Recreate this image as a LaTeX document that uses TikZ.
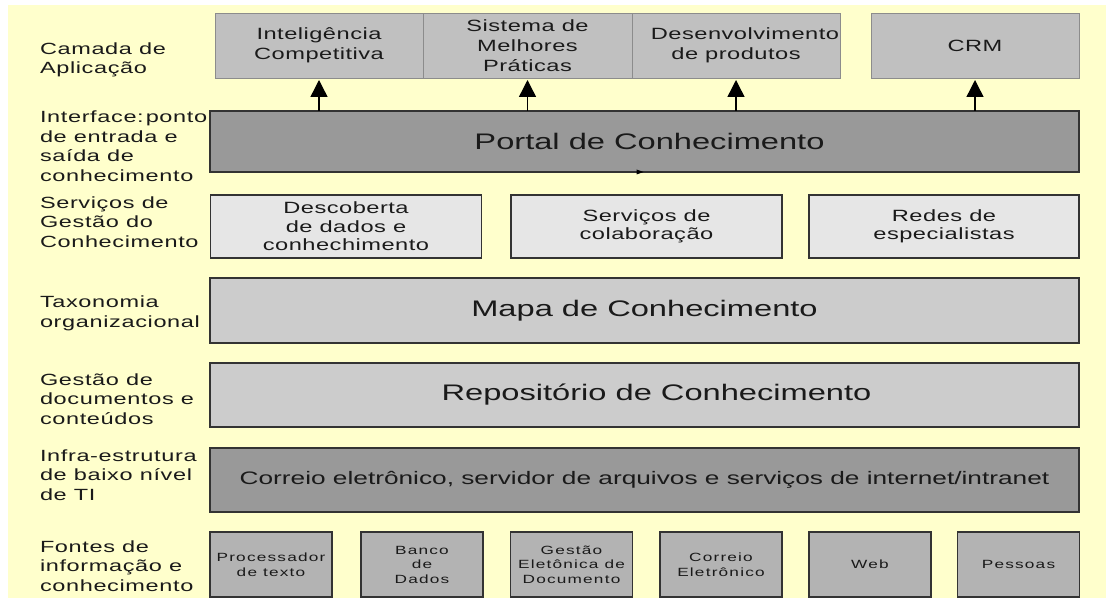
\documentclass[tikz,border=0pt]{standalone}
\usepackage{fontspec}
\usetikzlibrary{arrows.meta,calc}
\newfontfamily\labf{Liberation Sans}[FakeStretch=1.45,LetterSpace=4]
\newfontfamily\boxf{Liberation Sans}[FakeStretch=1.45,LetterSpace=3]
\newfontfamily\bigf{Liberation Sans}[FakeStretch=1.45]
\newfontfamily\smlf{Liberation Sans}[FakeStretch=1.45,LetterSpace=10]
\definecolor{bgyellow}{HTML}{FFFFCC}
\definecolor{appgray}{HTML}{C0C0C0}
\definecolor{portalgray}{HTML}{999999}
\definecolor{servgray}{HTML}{E6E6E6}
\definecolor{mapgray}{HTML}{CCCCCC}
\definecolor{srcgray}{HTML}{B3B3B3}
\definecolor{ink}{HTML}{1A1A1A}
\begin{document}
\begin{tikzpicture}[x=1pt,y=-1pt,
  every node/.style={inner sep=0pt,outer sep=0pt,text=ink},
  lbl/.style={anchor=west,align=left,font=\labf\fontsize{16.2}{19.5}\selectfont},
  appbox/.style={draw=black!45,line width=0.9pt,fill=appgray,minimum height=65,align=center,font=\boxf\fontsize{16.3}{20}\selectfont},
  servbox/.style={draw=black!80,line width=1.1pt,fill=servgray,minimum height=63,minimum width=271,align=center,font=\boxf\fontsize{16.3}{18.5}\selectfont},
  layerbox/.style={draw=black!80,line width=1.1pt,minimum width=869,align=center,font=\bigf\fontsize{22.5}{26}\selectfont},
  srcbox/.style={draw=black!80,line width=1.1pt,fill=srcgray,minimum width=122,minimum height=65,align=center,font=\smlf\fontsize{11.9}{14.5}\selectfont},
  uparrow/.style={line width=1.4pt,-{Triangle[width=17pt,length=17pt]}}]
\useasboundingbox (0,0) rectangle (1106,601);
\fill[white] (0,0) rectangle (1106,601);
\fill[bgyellow] (8,5) rectangle (1106,598);

% left labels
\node[lbl] (l1) at (40,60) {Camada de\\Aplicação};
\node[lbl] (l2) at (40,146) {Interface:\hspace{2pt}ponto\\de entrada e\\saída de\\conhecimento};
\node[lbl] (l3) at (40,222) {Serviços de\\Gestão do\\Conhecimento};
\node[lbl] (l4) at (40,313.5) {Taxonomia\\organizacional};
\node[lbl] (l5) at (40,399) {Gestão de\\documentos e\\conteúdos};
\node[lbl] (l6) at (40,475) {Infra-estrutura\\de baixo nível\\de TI};
\node[lbl] (l7) at (40,566) {Fontes de\\informação e\\conhecimento};

% application layer
\node[appbox,minimum width=208] (a1) at (319,45.5) {Inteligência\\Competitiva};
\node[appbox,minimum width=209] (a2) at (527.5,45.5) {Sistema de\\Melhores\\Práticas};
\node[appbox,minimum width=208] (a3) at (736,45.5) {\hspace*{18pt}Desenvolvimento\\de produtos};
\node[appbox,minimum width=208] (a4) at (975,45.5) {CRM};

% portal
\node[layerbox,fill=portalgray,minimum height=61] (portal) at (644.5,141.5) {\hspace*{10pt}Portal de Conhecimento};
\fill[black] ($(portal.south)+(-8,-2.5)$) -- ($(portal.south)+(-8,2.5)$) -- ($(portal.south)+(-1,0)$) -- cycle;

\foreach \a in {a1,a2,a3,a4}
  \draw[uparrow] (portal.north -| \a.south) -- ($(\a.south)+(0,2)$);

% services
\node[servbox] (s1) at (346,226.5) {Descoberta\\de dados e\\conhechimento};
\node[servbox] (s2) at (646.5,226.5) {Serviços de\\colaboração};
\node[servbox,minimum width=270] (s3) at (944,226.5) {Redes de\\especialistas};

% map, repository, infrastructure
\node[layerbox,fill=mapgray,minimum height=65] (mapa) at (644.5,310.5) {\raisebox{4pt}{Mapa de Conhecimento}};
\node[layerbox,fill=mapgray,minimum height=64] (repo) at (644.5,395) {\hspace*{24pt}Repositório de Conhecimento};
\node[layerbox,fill=portalgray,minimum height=64,font=\bigf\fontsize{18.1}{22}\selectfont] (infra) at (644.5,480) {\raisebox{-3pt}{Correio eletrônico, servidor de arquivos e serviços de internet/intranet}};

% sources
\node[srcbox] (f1) at (271,564.5) {Processador\\de texto};
\node[srcbox] (f2) at (422,564.5) {Banco\\de\\Dados};
\node[srcbox] (f3) at (571.5,564.5) {Gestão\\Eletônica de\\Documento};
\node[srcbox] (f4) at (721,564.5) {Correio\\Eletrônico};
\node[srcbox] (f5) at (870,564.5) {Web};
\node[srcbox] (f6) at (1018.5,564.5) {Pessoas};
\end{tikzpicture}
\end{document}
